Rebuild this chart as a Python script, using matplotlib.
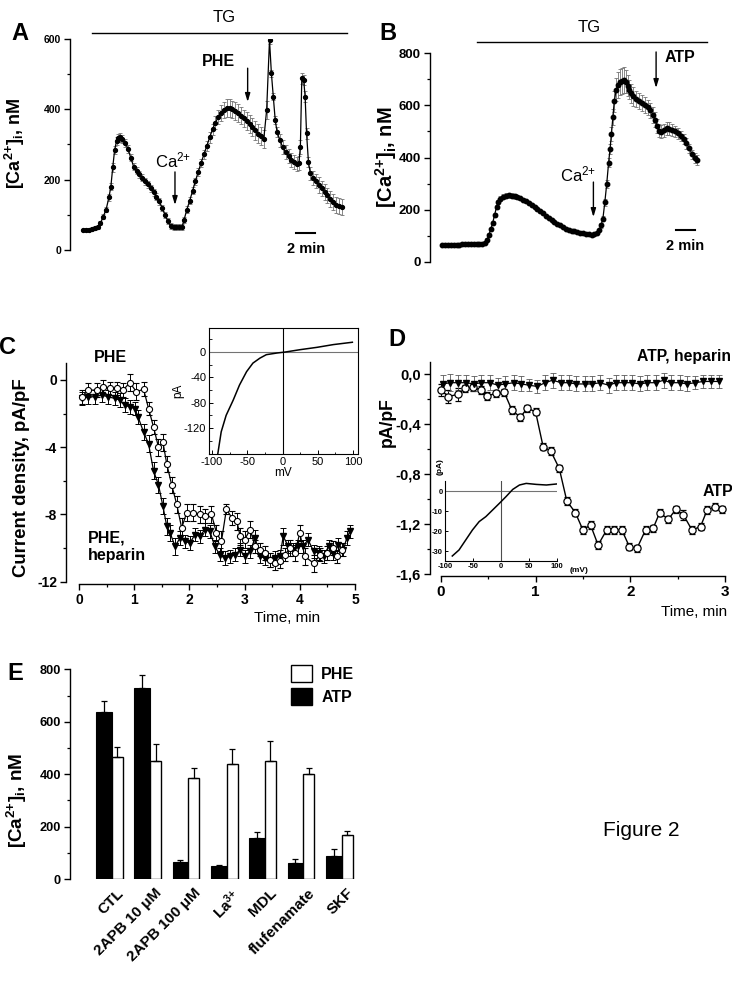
import numpy as np
import matplotlib
matplotlib.use("Agg")
import matplotlib.pyplot as plt
from matplotlib.patches import Patch

plt.rcParams['font.family'] = ['Liberation Sans', 'DejaVu Sans']
plt.rcParams['mathtext.fontset'] = 'custom'
plt.rcParams['mathtext.rm'] = 'Liberation Sans'
plt.rcParams['mathtext.bf'] = 'Liberation Sans:bold'
plt.rcParams['mathtext.default'] = 'regular'

# ---------------- data ----------------
# A : [Ca2+]i trace, PHE (time in min)
a_t = [1.4, 1.7, 2.0, 2.3, 2.6, 2.9, 3.2, 3.5, 3.8, 4.1,
       4.3, 4.5, 4.7, 4.9, 5.1, 5.3, 5.5, 5.8, 6.1, 6.4,
       6.7, 7.0, 7.3, 7.6, 7.9, 8.2, 8.5, 8.8, 9.1, 9.4,
       9.7, 10.0, 10.3, 10.6, 10.9, 11.2, 11.5, 11.8, 12.0, 12.3,
       12.6, 12.9, 13.2, 13.5, 13.8, 14.1, 14.4, 14.7, 15.0, 15.3,
       15.6, 15.9, 16.2, 16.5, 16.8, 17.1, 17.4, 17.7, 18.0, 18.3,
       18.6, 18.9, 19.2, 19.5, 19.8, 20.1, 20.4, 20.7, 21.0, 21.2,
       21.4, 21.6, 21.8, 22.1, 22.4, 22.7, 23.0, 23.3, 23.6, 23.9,
       24.1, 24.25, 24.4, 24.6, 24.75, 24.9, 25.1, 25.3, 25.6, 25.9,
       26.2, 26.5, 26.8, 27.1, 27.4, 27.7, 28.0, 28.3, 28.6]
a_v = [57, 58, 58, 60, 62, 66, 76, 95, 115, 150,
       180, 235, 285, 310, 318, 320, 315, 305, 288, 262,
       237, 225, 215, 205, 196, 187, 176, 164, 152, 138,
       120, 100, 82, 68, 66, 66, 66, 66, 85, 115,
       140, 168, 196, 222, 248, 272, 296, 320, 343, 362,
       378, 390, 398, 403, 403, 400, 396, 390, 382, 374,
       366, 358, 349, 340, 331, 324, 316, 398, 597, 502,
       436, 370, 335, 312, 292, 278, 266, 256, 249, 245,
       248, 294, 488, 483, 436, 332, 250, 218, 205, 195,
       185, 175, 165, 155, 145, 136, 128, 125, 122]
a_e = [4, 4, 4, 4, 5, 5, 6, 7, 8, 10,
       10, 12, 12, 12, 12, 12, 12, 12, 11, 10,
       10, 10, 10, 10, 10, 10, 10, 10, 10, 10,
       9, 9, 8, 8, 8, 8, 8, 8, 8, 9,
       10, 10, 10, 12, 12, 13, 14, 15, 16, 18,
       20, 22, 24, 25, 25, 25, 25, 25, 25, 25,
       26, 26, 26, 26, 26, 26, 26, 26, 10, 10,
       10, 12, 15, 18, 20, 20, 20, 20, 20, 20,
       20, 20, 15, 15, 15, 15, 15, 18, 20, 20,
       22, 22, 22, 22, 22, 22, 22, 22, 22]

# B : [Ca2+]i trace, ATP
b_t = [1.3, 1.6, 1.9, 2.2, 2.5, 2.8, 3.1, 3.4, 3.7, 4.0,
       4.3, 4.6, 4.9, 5.2, 5.5, 5.8, 6.0, 6.2, 6.4, 6.6,
       6.8, 7.0, 7.2, 7.4, 7.7, 8.0, 8.3, 8.6, 8.9, 9.2,
       9.5, 9.8, 10.1, 10.4, 10.7, 11.0, 11.3, 11.6, 11.9, 12.2,
       12.5, 12.8, 13.1, 13.4, 13.7, 14.0, 14.3, 14.6, 14.9, 15.2,
       15.5, 15.8, 16.1, 16.4, 16.7, 17.0, 17.3, 17.6, 17.8, 18.0,
       18.2, 18.4, 18.6, 18.8, 18.95, 19.1, 19.25, 19.4, 19.6, 19.8,
       20.0, 20.2, 20.4, 20.6, 20.8, 21.0, 21.2, 21.4, 21.7, 22.0,
       22.3, 22.6, 22.9, 23.2, 23.5, 23.7, 23.9, 24.1, 24.3, 24.6,
       24.9, 25.2, 25.5, 25.8, 26.1, 26.4, 26.7, 27.0, 27.3, 27.6,
       27.9, 28.1]
b_v = [64, 64, 64, 65, 65, 66, 66, 67, 67, 67,
       68, 68, 69, 69, 70, 74, 85, 105, 125, 150,
       180, 210, 230, 242, 250, 254, 256, 254, 251, 248,
       244, 238, 232, 225, 217, 210, 202, 194, 186, 177,
       168, 161, 153, 146, 140, 134, 128, 124, 120, 117,
       114, 112, 110, 108, 106, 105, 106, 112, 122, 140,
       166, 228, 298, 380, 432, 490, 555, 615, 660, 678,
       688, 693, 698, 690, 675, 660, 645, 634, 625, 615,
       608, 600, 592, 580, 563, 545, 520, 502, 498, 505,
       512, 510, 506, 500, 492, 482, 470, 454, 435, 412,
       398, 390]
b_e = [3, 3, 3, 3, 3, 3, 3, 3, 3, 3,
       3, 3, 3, 3, 3, 4, 5, 6, 7, 8,
       8, 8, 9, 10, 10, 10, 10, 10, 8, 8,
       6, 6, 5, 5, 5, 5, 5, 5, 5, 4,
       4, 4, 4, 4, 4, 4, 4, 4, 4, 4,
       4, 4, 4, 4, 4, 4, 4, 4, 5, 8,
       10, 12, 15, 18, 20, 25, 30, 40, 45, 50,
       50, 50, 50, 45, 40, 35, 35, 35, 30, 30,
       30, 30, 30, 30, 30, 28, 28, 25, 25, 25,
       25, 25, 22, 22, 22, 20, 20, 20, 18, 18,
       18, 18]

# C : current density, PHE (circles) and PHE + heparin (triangles)
c_phe_t = [0.05, 0.17, 0.32, 0.44, 0.56, 0.68, 0.8, 0.92, 1.04, 1.17,
           1.26, 1.35, 1.44, 1.52, 1.59, 1.68, 1.77, 1.86, 1.95, 2.07,
           2.19, 2.28, 2.4, 2.49, 2.58, 2.67, 2.77, 2.86, 2.92, 3.0,
           3.1, 3.19, 3.28, 3.37, 3.46, 3.55, 3.64, 3.73, 3.82, 3.91,
           4.0, 4.09, 4.25, 4.37, 4.49, 4.6, 4.67, 4.76]
c_phe_v = [-1.0, -0.6, -0.6, -0.4, -0.5, -0.5, -0.6, -0.16, -0.7, -0.55,
           -1.7, -2.8, -4.0, -3.7, -5.0, -6.25, -7.4, -8.8, -7.9, -7.9,
           -8.0, -8.1, -8.0, -9.1, -9.6, -7.7, -8.2, -8.4, -9.3, -9.5,
           -8.9, -9.9, -10.1, -10.3, -10.7, -10.9, -10.8, -10.4, -10.0, -10.3,
           -9.1, -10.5, -10.9, -10.4, -10.3, -10.0, -10.5, -10.1]
c_phe_e = [0.4, 0.4, 0.4, 0.4, 0.4, 0.4, 0.4, 0.5, 0.5, 0.4,
           0.4, 0.4, 0.5, 0.5, 0.5, 0.5, 0.5, 0.6, 0.5, 0.5,
           0.5, 0.4, 0.5, 0.5, 0.6, 0.3, 0.4, 0.5, 0.5, 0.5,
           0.5, 0.4, 0.4, 0.4, 0.4, 0.4, 0.4, 0.4, 0.5, 0.5,
           0.5, 0.5, 0.5, 0.4, 0.4, 0.4, 0.4, 0.4]
c_hep_t = [0.05, 0.17, 0.29, 0.41, 0.53, 0.65, 0.74, 0.83, 0.92, 1.01,
           1.07, 1.17, 1.26, 1.35, 1.44, 1.52, 1.59, 1.65, 1.74, 1.83,
           1.92, 2.01, 2.1, 2.19, 2.28, 2.37, 2.46, 2.55, 2.64, 2.74,
           2.83, 2.92, 3.0, 3.1, 3.19, 3.28, 3.37, 3.46, 3.55, 3.64,
           3.7, 3.79, 3.88, 3.97, 4.06, 4.15, 4.25, 4.34, 4.43, 4.52,
           4.61, 4.7, 4.79, 4.85, 4.91]
c_hep_v = [-1.1, -1.0, -1.0, -0.9, -1.0, -1.1, -1.2, -1.5, -1.6, -1.7,
           -2.2, -3.1, -3.8, -5.4, -6.25, -7.5, -8.7, -9.1, -9.9, -9.4,
           -9.6, -9.7, -9.2, -9.3, -8.9, -9.0, -9.9, -10.4, -10.6, -10.5,
           -10.4, -10.1, -10.5, -10.2, -9.4, -10.5, -10.6, -10.7, -10.6, -10.5,
           -9.3, -9.9, -10.1, -9.9, -9.9, -9.5, -10.2, -10.3, -10.5, -9.9,
           -10.3, -9.8, -10.1, -9.4, -9.0]
c_hep_e = [0.4, 0.4, 0.4, 0.4, 0.4, 0.4, 0.4, 0.4, 0.4, 0.4,
           0.4, 0.5, 0.5, 0.5, 0.5, 0.5, 0.5, 0.5, 0.5, 0.4,
           0.4, 0.4, 0.4, 0.4, 0.4, 0.4, 0.4, 0.4, 0.4, 0.4,
           0.4, 0.4, 0.4, 0.4, 0.5, 0.4, 0.4, 0.4, 0.4, 0.4,
           0.5, 0.4, 0.4, 0.4, 0.4, 0.4, 0.4, 0.4, 0.4, 0.4,
           0.4, 0.4, 0.4, 0.4, 0.4]
# C inset : I-V curve
c_iv_mv = [-92, -87, -80, -70, -61, -51, -42, -32, -23, -8, 4, 25, 49, 72, 99]
c_iv_pa = [-162, -126, -100, -76, -52, -31, -17.5, -9.6, -4.2, -1.6, 0, 3.7, 7.4, 11.7, 15.4]

# D : current density, ATP (circles) and ATP + heparin (triangles)
d_atp_t = [0.0, 0.08, 0.18, 0.26, 0.34, 0.42, 0.49, 0.58, 0.67, 0.75,
           0.84, 0.91, 1.0, 1.08, 1.16, 1.25, 1.33, 1.42, 1.5, 1.58,
           1.66, 1.75, 1.83, 1.91, 1.99, 2.07, 2.16, 2.24, 2.31, 2.4,
           2.48, 2.56, 2.65, 2.74, 2.81, 2.89, 2.97]
d_atp_v = [-0.128, -0.181, -0.163, -0.115, -0.107, -0.128, -0.176, -0.155, -0.147, -0.288,
           -0.347, -0.275, -0.301, -0.581, -0.616, -0.755, -1.016, -1.109, -1.248, -1.208,
           -1.368, -1.248, -1.248, -1.248, -1.381, -1.395, -1.248, -1.235, -1.109, -1.163,
           -1.083, -1.128, -1.248, -1.221, -1.088, -1.061, -1.083]
d_atp_e = [0.05, 0.05, 0.05, 0.03, 0.03, 0.03, 0.03, 0.03, 0.03, 0.03,
           0.03, 0.03, 0.03, 0.03, 0.03, 0.03, 0.03, 0.03, 0.03, 0.03,
           0.03, 0.03, 0.03, 0.03, 0.03, 0.03, 0.03, 0.03, 0.03, 0.03,
           0.03, 0.04, 0.03, 0.03, 0.03, 0.03, 0.03]
d_hep_t = [0.02, 0.1, 0.18, 0.27, 0.35, 0.43, 0.52, 0.6, 0.68, 0.77,
           0.85, 0.93, 1.02, 1.1, 1.18, 1.27, 1.35, 1.43, 1.52, 1.6,
           1.68, 1.77, 1.85, 1.93, 2.02, 2.1, 2.18, 2.27, 2.35, 2.43,
           2.52, 2.6, 2.68, 2.77, 2.85, 2.93]
d_hep_v = [-0.08, -0.07, -0.07, -0.07, -0.08, -0.07, -0.07, -0.09, -0.08, -0.07,
           -0.08, -0.09, -0.1, -0.07, -0.05, -0.07, -0.07, -0.08, -0.08, -0.08,
           -0.07, -0.09, -0.07, -0.07, -0.07, -0.08, -0.07, -0.07, -0.05, -0.07,
           -0.07, -0.08, -0.07, -0.06, -0.06, -0.06]
d_hep_e = [0.07, 0.07, 0.06, 0.06, 0.06, 0.06, 0.06, 0.06, 0.06, 0.06,
           0.06, 0.05, 0.05, 0.06, 0.06, 0.06, 0.06, 0.06, 0.06, 0.06,
           0.06, 0.06, 0.06, 0.06, 0.06, 0.06, 0.06, 0.06, 0.06, 0.06,
           0.06, 0.06, 0.05, 0.05, 0.05, 0.05]
# D inset : I-V curve
d_iv_mv = [-87, -75, -63, -51, -39, -27, -15, -3, 9, 21, 33, 45, 63, 81, 99]
d_iv_pa = [-32.5, -29.5, -24.5, -19.5, -15.3, -12.8, -9.5, -6.2, -2.8, 0.8, 3.0, 3.8, 3.3, 3.0, 3.5]

# E : [Ca2+]i bar chart
e_cats = ['CTL', '2APB 10 μM', '2APB 100 μM', 'La$^{3{+}}$', 'MDL', 'flufenamate', 'SKF']
e_atp = [636, 730, 66, 48, 155, 60, 88]
e_atp_err = [42, 50, 8, 5, 23, 18, 26]
e_phe = [464, 450, 387, 440, 450, 399, 168]
e_phe_err = [38, 64, 38, 56, 77, 23, 15]

a_ticks = [0, 200, 400, 600]
b_ticks = [0, 200, 400, 600, 800]
c_yticks = [0, -4, -8, -12]
c_xticks = [0, 1, 2, 3, 4, 5]
d_yticks = [0.0, -0.4, -0.8, -1.2, -1.6]
d_ylabels = ['0,0', '-0,4', '-0,8', '-1,2', '-1,6']
d_xticks = [0, 1, 2, 3]
e_ticks = [0, 200, 400, 600, 800]

# ---------------- figure ----------------
W, H = 732, 982
fig = plt.figure(figsize=(W / 100, H / 100), dpi=100)


def px_axes(l, t, r, b):
    return fig.add_axes([l / W, 1 - b / H, (r - l) / W, (b - t) / H])


def ftext(x, y, s, **kw):
    fig.text(x / W, 1 - y / H, s, **kw)


def style(ax, bottom=False):
    ax.spines['top'].set_visible(False)
    ax.spines['right'].set_visible(False)
    ax.spines['bottom'].set_visible(bottom)
    for s in ['left', 'bottom']:
        ax.spines[s].set_linewidth(1.0)
    if not bottom:
        ax.set_xticks([])
    ax.tick_params(which='major', direction='out', width=1.0, length=4, pad=2.5)
    ax.tick_params(which='minor', direction='out', width=0.9, length=2.5)
    ax.patch.set_alpha(0)


def lbl(v):
    return [str(x) for x in v]


ylab_ca = r'[Ca$^{\mathbf{2{+}}}$]$_{\mathbf{i}}$, nM'
arrow = dict(arrowstyle='-|>,head_length=0.5,head_width=0.15', color='k', lw=1.0, shrinkA=0, shrinkB=0)

# ---- A ----
axA = px_axes(70, 39, 355, 250)
style(axA)
axA.set_xlim(0, 30)
axA.set_ylim(0, 600)
axA.set_yticks(a_ticks, lbl(a_ticks), fontweight='bold', fontsize=7.5)
axA.set_yticks([100, 300, 500], minor=True)
axA.errorbar(a_t, a_v, yerr=a_e, fmt='o-', color='k', ms=2.8, lw=0.9,
             ecolor='0.45', elinewidth=0.6, capsize=1.3, capthick=0.6)
axA.plot([2.3, 29.2], [617, 617], color='k', lw=1.0, clip_on=False)
axA.text(16.2, 660, 'TG', ha='center', va='center', fontsize=12)
axA.annotate('', xy=(11.05, 128), xytext=(11.05, 222), arrowprops=arrow)
axA.text(10.9, 256, 'Ca$^{2{+}}$', ha='center', va='center', fontsize=12)
axA.annotate('', xy=(18.7, 421), xytext=(18.7, 517), arrowprops=arrow)
axA.text(15.6, 535, 'PHE', ha='center', va='center', fontsize=11.5, fontweight='bold')
axA.plot([23.8, 25.8], [48, 48], color='k', lw=1.5)
axA.text(24.8, 3, '2 min', ha='center', va='center', fontsize=10.5, fontweight='bold')
ftext(20, 33, 'A', fontsize=17, fontweight='bold', ha='center', va='center')
ftext(15, 143, ylab_ca, rotation=90, fontsize=13, fontweight='bold', ha='center', va='center')

# ---- B ----
axB = px_axes(430, 53, 715, 262)
style(axB)
axB.set_xlim(0, 30)
axB.set_ylim(0, 800)
axB.set_yticks(b_ticks, lbl(b_ticks), fontweight='bold', fontsize=9.5)
axB.set_yticks([100, 300, 500, 700], minor=True)
axB.errorbar(b_t, b_v, yerr=b_e, fmt='o-', color='k', ms=3.2, lw=0.9,
             ecolor='0.45', elinewidth=0.6, capsize=1.3, capthick=0.6)
axB.plot([4.95, 29.2], [842, 842], color='k', lw=1.0, clip_on=False)
axB.text(16.8, 896, 'TG', ha='center', va='center', fontsize=12)
axB.annotate('', xy=(17.2, 172), xytext=(17.2, 306), arrowprops=arrow)
axB.text(15.6, 335, 'Ca$^{2{+}}$', ha='center', va='center', fontsize=12)
axB.annotate('', xy=(23.8, 666), xytext=(23.8, 804), arrowprops=arrow)
axB.text(26.3, 781, 'ATP', ha='center', va='center', fontsize=11.5, fontweight='bold')
axB.plot([25.9, 27.9], [122, 122], color='k', lw=1.5)
axB.text(26.9, 61, '2 min', ha='center', va='center', fontsize=10.5, fontweight='bold')
ftext(388, 33, 'B', fontsize=17, fontweight='bold', ha='center', va='center')
ftext(386, 157, ylab_ca, rotation=90, fontsize=14.5, fontweight='bold', ha='center', va='center')

# ---- C ----
axC = px_axes(66, 363, 358, 584)
style(axC, bottom=True)
axC.set_xlim(-0.2355, 5.054)
axC.set_ylim(-12.14, 1.01)
axC.spines['left'].set_bounds(-12, 1.01)
axC.spines['bottom'].set_bounds(0, 5)
axC.set_yticks(c_yticks, lbl(c_yticks), fontweight='bold', fontsize=10)
axC.set_yticks([-2, -6, -10], minor=True)
axC.set_xticks(c_xticks, lbl(c_xticks), fontweight='bold', fontsize=10)
axC.set_xticks([0.5, 1.5, 2.5, 3.5, 4.5], minor=True)
axC.errorbar(c_hep_t, c_hep_v, yerr=c_hep_e, fmt='-v', color='k', mfc='k', mec='k',
             ms=4.6, lw=0.9, elinewidth=0.7, capsize=2, capthick=0.7)
axC.errorbar(c_phe_t, c_phe_v, yerr=c_phe_e, fmt='-o', color='k', mfc='white', mec='k',
             ms=4.4, mew=0.8, lw=0.9, elinewidth=0.7, capsize=2, capthick=0.7)
ftext(8, 347, 'C', fontsize=17, fontweight='bold', ha='center', va='center')
ftext(110, 358, 'PHE', fontsize=11.5, fontweight='bold', ha='center', va='center')
ftext(88, 547, 'PHE,\nheparin', fontsize=11.5, fontweight='bold', ha='left', va='center',
      linespacing=1.2)
ftext(287, 618, 'Time, min', fontsize=11, ha='center', va='center')
ftext(22, 478, 'Current density, pA/pF', rotation=90, fontsize=13.4, fontweight='bold',
      ha='center', va='center')

# C inset
axCi = px_axes(209, 328, 358, 454)
axCi.set_xlim(-104.3, 107)
axCi.set_ylim(-161, 37.9)
axCi.axhline(0, color='0.45', lw=0.8)
axCi.axvline(0, color='k', lw=0.8)
axCi.plot(c_iv_mv, c_iv_pa, color='k', lw=1.1)
axCi.set_xticks([-100, -50, 0, 50, 100], ['-100', '-50', '0', '50', '100'], fontsize=8)
axCi.set_yticks([0, -40, -80, -120], ['0', '-40', '-80', '-120'], fontsize=8)
axCi.set_xticks([-75, -25, 25, 75], minor=True)
axCi.set_yticks([20, -20, -60, -100, -140], minor=True)
axCi.tick_params(which='major', direction='in', length=3, width=0.7, pad=2)
axCi.tick_params(which='minor', direction='in', length=1.8, width=0.6)
for s in axCi.spines.values():
    s.set_linewidth(0.8)
axCi.set_xlabel('mV', fontsize=8.5, labelpad=0)
axCi.set_ylabel('pA', fontsize=8.5, labelpad=0)

# ---- D ----
axD = px_axes(430, 361.7, 728, 576)
style(axD, bottom=True)
axD.set_xlim(-0.113, 3.03)
axD.set_ylim(-1.616, 0.098)
axD.spines['left'].set_bounds(-1.6, 0.098)
axD.spines['bottom'].set_bounds(0, 3)
axD.set_yticks(d_yticks, d_ylabels, fontweight='bold', fontsize=10.5)
axD.set_yticks([-0.2, -0.6, -1.0, -1.4], minor=True)
axD.set_xticks(d_xticks, lbl(d_xticks), fontweight='bold', fontsize=11)
axD.set_xticks([0.5, 1.5, 2.5], minor=True)
axD.errorbar(d_atp_t, d_atp_v, yerr=d_atp_e, fmt='-o', color='k', mfc='white', mec='k',
             ms=5.2, mew=0.9, lw=1.0, elinewidth=0.7, capsize=2.3, capthick=0.7)
axD.errorbar(d_hep_t, d_hep_v, yerr=d_hep_e, fmt='-v', color='k', mfc='k', mec='k',
             ms=5, lw=0.9, ecolor='0.35', elinewidth=0.6, capsize=2.3, capthick=0.6)
ftext(397, 340, 'D', fontsize=17, fontweight='bold', ha='center', va='center')
ftext(731, 357, 'ATP, heparin', fontsize=11.3, fontweight='bold', ha='right', va='center')
ftext(733, 492, 'ATP', fontsize=11.5, fontweight='bold', ha='right', va='center')
ftext(387, 422, 'pA/pF', rotation=90, fontsize=12.7, fontweight='bold', ha='center', va='center')
ftext(694, 612, 'Time, min', fontsize=11, ha='center', va='center')

# D inset
axDi = px_axes(445, 480.7, 557, 560.7)
axDi.set_xlim(-100, 100)
axDi.set_ylim(-34.85, 5.15)
axDi.spines['top'].set_visible(False)
axDi.spines['right'].set_visible(False)
for s in ['left', 'bottom']:
    axDi.spines[s].set_linewidth(0.8)
axDi.patch.set_alpha(0)
axDi.axhline(0, color='0.45', lw=0.8)
axDi.axvline(0, color='0.3', lw=0.8)
axDi.plot(d_iv_mv, d_iv_pa, color='k', lw=1.1)
axDi.set_xticks([-100, -50, 0, 50, 100], ['-100', '-50', '0', '50', '100'], fontsize=5.5,
                fontweight='bold')
axDi.set_yticks([0, -10, -20, -30], ['0', '-10', '-20', '-30'], fontsize=5.5, fontweight='bold')
axDi.tick_params(which='major', direction='in', length=2.5, width=0.7, pad=1.5)
ftext(579, 570, '(mV)', fontsize=6, fontweight='bold', ha='center', va='center')
ftext(440, 467, '(pA)', fontsize=6, fontweight='bold', rotation=90, ha='center', va='center')

# ---- E ----
axE = px_axes(70, 669.3, 355, 879)
style(axE)
axE.set_ylim(0, 800)
axE.set_xlim(-1.089, 6.352)
x = np.arange(len(e_cats))
axE.bar(x - 0.41, e_atp, width=0.41, align='edge', color='k', edgecolor='k', lw=0.8)
axE.bar(x, e_phe, width=0.287, align='edge', color='white', edgecolor='k', lw=1.0)
axE.errorbar(x - 0.205, e_atp, yerr=[np.zeros(len(x)), e_atp_err], fmt='none', ecolor='k',
             elinewidth=0.9, capsize=2.5, capthick=0.9)
axE.errorbar(x + 0.1435, e_phe, yerr=[np.zeros(len(x)), e_phe_err], fmt='none', ecolor='k',
             elinewidth=0.9, capsize=2.5, capthick=0.9)
axE.set_yticks(e_ticks, lbl(e_ticks), fontweight='bold', fontsize=9.2)
axE.set_yticks([100, 300, 500, 700], minor=True)
axE.set_xticks(x + 0.13, e_cats, rotation=45, ha='right', rotation_mode='anchor',
               fontweight='bold', fontsize=11)
axE.tick_params(axis='x', length=0, pad=5)
axE.legend(handles=[Patch(facecolor='white', edgecolor='k', lw=1.0, label='PHE'),
                    Patch(facecolor='k', edgecolor='k', label='ATP')],
           loc='upper left', bbox_to_anchor=(291 / W, 1 - 665 / H), bbox_transform=fig.transFigure,
           frameon=False, prop={'weight': 'bold', 'size': 11.5}, handlelength=1.3,
           handleheight=1.3, handletextpad=0.6, labelspacing=0.35, borderaxespad=0, borderpad=0)
ftext(15, 673, 'E', fontsize=17, fontweight='bold', ha='center', va='center')
ftext(17, 800, ylab_ca, rotation=90, fontsize=13.6, fontweight='bold', ha='center', va='center')

ftext(641, 830, 'Figure 2', fontsize=15, ha='center', va='center')

fig.savefig('out.png', dpi=100)
